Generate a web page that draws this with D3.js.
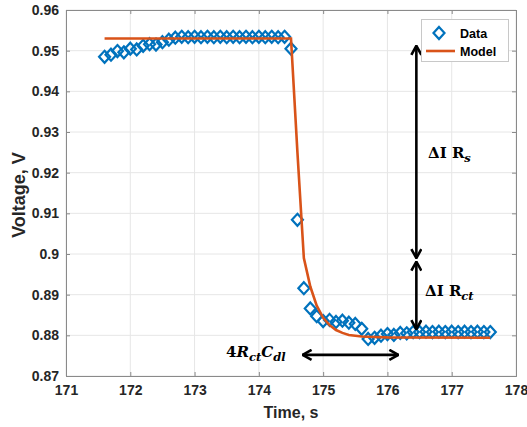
<!DOCTYPE html>
<html>
<head>
<meta charset="utf-8">
<script src="https://cdn.jsdelivr.net/npm/d3@7"></script>
<style>
  body { margin: 0; background: #fff; }
  text { font-family: "Liberation Sans", Arial, sans-serif; }
</style>
</head>
<body>
<div class="container"></div>
<script>
// measured data (time in s, voltage in V)
const dataTime = [171.6, 171.7, 171.8, 171.9, 172.0, 172.1, 172.2, 172.3, 172.4, 172.5,
                  172.6, 172.7, 172.8, 172.9, 173.0, 173.1, 173.2, 173.3, 173.4, 173.5,
                  173.6, 173.7, 173.8, 173.9, 174.0, 174.1, 174.2, 174.3, 174.4, 174.5,
                  174.6, 174.7, 174.8, 174.9, 175.0, 175.1, 175.2, 175.3, 175.4, 175.5,
                  175.6, 175.7, 175.8, 175.9, 176.0, 176.1, 176.2, 176.3, 176.4, 176.5,
                  176.6, 176.7, 176.8, 176.9, 177.0, 177.1, 177.2, 177.3, 177.4, 177.5, 177.6];
const dataVolt = [0.9485, 0.9490, 0.9499, 0.9496, 0.9505, 0.9503, 0.9512, 0.9516, 0.9515, 0.9521,
                  0.9527, 0.9532, 0.9534, 0.9533, 0.9534, 0.9533, 0.9534, 0.9533, 0.9534, 0.9533,
                  0.9534, 0.9533, 0.9534, 0.9533, 0.9534, 0.9533, 0.9534, 0.9533, 0.9534, 0.9505,
                  0.9084, 0.8916, 0.8866, 0.8847, 0.8835, 0.8838, 0.8833, 0.8836, 0.8831, 0.8828,
                  0.8816, 0.8791, 0.8794, 0.8799, 0.8803, 0.8801, 0.8806, 0.8805, 0.8808, 0.8808,
                  0.8809, 0.8808, 0.8809, 0.8808, 0.8809, 0.8808, 0.8809, 0.8808, 0.8809, 0.8808, 0.8808];

// model fit
const modelTime = [171.6, 174.5, 174.6, 174.7, 174.8, 174.9, 175.0, 175.1, 175.2, 175.3,
                   175.4, 175.5, 175.6, 175.8, 176.0, 177.6];
const modelVolt = [0.9530, 0.9530, 0.9250, 0.8990, 0.8920, 0.8873, 0.8843, 0.8825, 0.8813, 0.8806,
                   0.8801, 0.8799, 0.8797, 0.8796, 0.8795, 0.8794];

const xTicks = [171, 172, 173, 174, 175, 176, 177, 178];
const yTicks = [0.87, 0.88, 0.89, 0.9, 0.91, 0.92, 0.93, 0.94, 0.95, 0.96];

// annotation arrows in data units
const arrowRs = {t: 176.45, v0: 0.9512, v1: 0.8990};
const arrowRct = {t: 176.45, v0: 0.8981, v1: 0.8815};
const arrowCdl = {v: 0.8752, t0: 174.68, t1: 176.17};

const w = 527;
const h = 427;
const padding = {left: 66, top: 10, right: 11, bottom: 51};

const xScale = d3.scaleLinear()
                 .domain([171, 178])
                 .range([padding.left, w - padding.right]);
const yScale = d3.scaleLinear()
                 .domain([0.87, 0.96])
                 .range([h - padding.bottom, padding.top]);

const svg = d3.select(".container")
              .append("svg")
              .attr("width", w)
              .attr("height", h);

const defs = svg.append("defs");
defs.append("marker")
    .attr("id", "head")
    .attr("viewBox", "0 0 12 12")
    .attr("refX", 11)
    .attr("refY", 6)
    .attr("markerWidth", 12)
    .attr("markerHeight", 12)
    .attr("markerUnits", "userSpaceOnUse")
    .attr("orient", "auto-start-reverse")
    .append("path")
    .attr("d", "M2,1 L11,6 L2,11")
    .attr("fill", "none")
    .attr("stroke", "#000")
    .attr("stroke-width", 2.6);

// grid
svg.append("g")
   .selectAll("line")
   .data(xTicks)
   .enter()
   .append("line")
   .attr("x1", d => xScale(d)).attr("x2", d => xScale(d))
   .attr("y1", padding.top).attr("y2", h - padding.bottom)
   .attr("stroke", "#e6e6e6");
svg.append("g")
   .selectAll("line")
   .data(yTicks)
   .enter()
   .append("line")
   .attr("y1", d => yScale(d)).attr("y2", d => yScale(d))
   .attr("x1", padding.left).attr("x2", w - padding.right)
   .attr("stroke", "#e6e6e6");

// axes, ticks inside, box on
const xAxis = d3.axisBottom(xScale).tickValues(xTicks).tickSize(-4).tickPadding(9).tickFormat(d3.format("d"));
const yAxis = d3.axisLeft(yScale).tickValues(yTicks).tickSize(-4).tickPadding(7).tickFormat(d => String(+d.toFixed(2)));
const xTop = d3.axisTop(xScale).tickValues(xTicks).tickSize(-4).tickFormat("");
const yRight = d3.axisRight(yScale).tickValues(yTicks).tickSize(-4).tickFormat("");

const styleAxis = g => {
  g.selectAll(".domain").attr("stroke", "#8a8a8a");
  g.selectAll(".tick line").attr("stroke", "#8a8a8a");
  g.selectAll("text")
   .attr("fill", "#262626")
   .style("font-size", "14px")
   .style("font-weight", "bold");
};

svg.append("g").attr("transform", "translate(0," + (h - padding.bottom) + ")").call(xAxis).call(styleAxis);
svg.append("g").attr("transform", "translate(" + padding.left + ",0)").call(yAxis).call(styleAxis);
svg.append("g").attr("transform", "translate(0," + padding.top + ")").call(xTop).call(styleAxis);
svg.append("g").attr("transform", "translate(" + (w - padding.right) + ",0)").call(yRight).call(styleAxis);

// axis labels
svg.append("text")
   .attr("x", (padding.left + w - padding.right) / 2)
   .attr("y", 418)
   .attr("text-anchor", "middle")
   .attr("fill", "#262626")
   .style("font-size", "16px")
   .style("font-weight", "bold")
   .text("Time, s");
svg.append("text")
   .attr("transform", "translate(25," + ((padding.top + h - padding.bottom) / 2 + 2) + ") rotate(-90)")
   .attr("text-anchor", "middle")
   .attr("fill", "#262626")
   .style("font-size", "18px")
   .style("font-weight", "bold")
   .text("Voltage, V");

const diamond = "M0,-6 L5.5,0 L0,6 L-5.5,0 Z";

// data markers
svg.append("g")
   .selectAll("path")
   .data(dataTime)
   .enter()
   .append("path")
   .attr("d", diamond)
   .attr("transform", (d, i) => "translate(" + xScale(d) + "," + yScale(dataVolt[i]) + ")")
   .attr("fill", "none")
   .attr("stroke", "#0072BD")
   .attr("stroke-width", 2.2);

// model line
const line = d3.line()
               .x((d, i) => xScale(modelTime[i]))
               .y(d => yScale(d));
svg.append("path")
   .attr("d", line(modelVolt))
   .attr("fill", "none")
   .attr("stroke", "#D95319")
   .attr("stroke-width", 2.6);

// annotation arrows
const drawArrow = (x1, y1, x2, y2) => {
  svg.append("line")
     .attr("x1", x1).attr("y1", y1).attr("x2", x2).attr("y2", y2)
     .attr("stroke", "#000")
     .attr("stroke-width", 2.6)
     .attr("marker-start", "url(#head)")
     .attr("marker-end", "url(#head)");
};
drawArrow(xScale(arrowRs.t), yScale(arrowRs.v0), xScale(arrowRs.t), yScale(arrowRs.v1));
drawArrow(xScale(arrowRct.t), yScale(arrowRct.v0), xScale(arrowRct.t), yScale(arrowRct.v1));
drawArrow(xScale(arrowCdl.t0), yScale(arrowCdl.v), xScale(arrowCdl.t1), yScale(arrowCdl.v));

const serif = '"DejaVu Serif", "Liberation Serif", serif';

const t1 = svg.append("text").attr("x", 428).attr("y", 158)
              .style("font-family", serif).style("font-size", "15px").style("font-weight", "bold");
t1.append("tspan").text("ΔI R");
t1.append("tspan").attr("dy", 4).style("font-size", "11.5px").style("font-style", "italic").text("s");

const t2 = svg.append("text").attr("x", 425).attr("y", 296)
              .style("font-family", serif).style("font-size", "15px").style("font-weight", "bold");
t2.append("tspan").text("ΔI R");
t2.append("tspan").attr("dy", 4).style("font-size", "11.5px").style("font-style", "italic").text("ct");

const t3 = svg.append("text").attr("x", 226).attr("y", 357)
              .style("font-family", serif).style("font-size", "15px").style("font-weight", "bold");
t3.append("tspan").text("4");
t3.append("tspan").style("font-style", "italic").text("R");
t3.append("tspan").attr("dy", 4).style("font-size", "11.5px").style("font-style", "italic").text("ct");
t3.append("tspan").attr("dy", -4).style("font-style", "italic").text("C");
t3.append("tspan").attr("dy", 4).style("font-size", "11.5px").style("font-style", "italic").text("dl");

// legend
const legend = svg.append("g");
legend.append("rect")
      .attr("x", 421.5).attr("y", 19.5)
      .attr("width", 87).attr("height", 42)
      .attr("fill", "#fff")
      .attr("stroke", "#c8c8c8");
legend.append("path")
      .attr("d", diamond)
      .attr("transform", "translate(439,33)")
      .attr("fill", "none")
      .attr("stroke", "#0072BD")
      .attr("stroke-width", 2.2);
legend.append("line")
      .attr("x1", 426).attr("x2", 455)
      .attr("y1", 51).attr("y2", 51)
      .attr("stroke", "#D95319")
      .attr("stroke-width", 2.6);
legend.selectAll("text")
      .data(["Data", "Model"])
      .enter()
      .append("text")
      .attr("x", 460)
      .attr("y", (d, i) => 37.5 + i * 18.5)
      .attr("fill", "#000")
      .style("font-size", "12.5px")
      .style("font-weight", "bold")
      .text(d => d);
</script>
</body>
</html>
